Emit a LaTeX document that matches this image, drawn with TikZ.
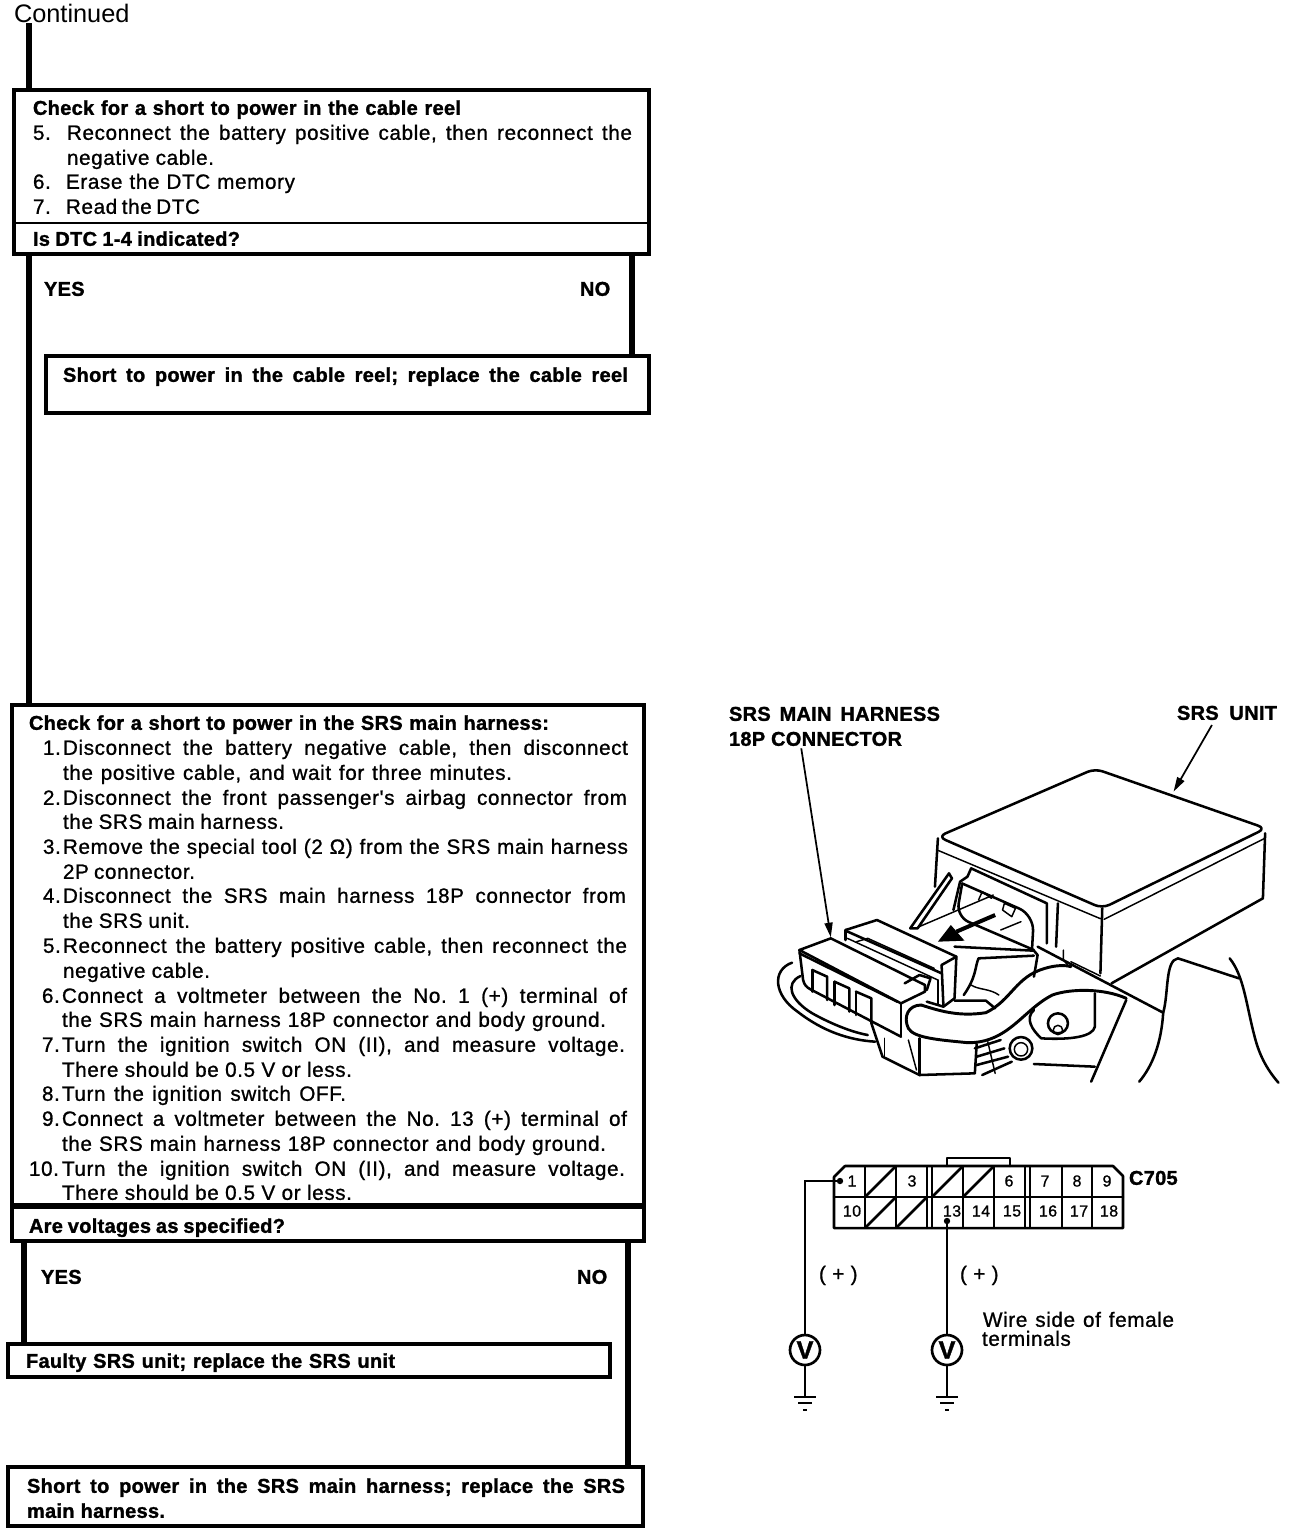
\documentclass[tikz,border=0pt]{standalone}
\usepackage{fontspec}
\usetikzlibrary{arrows.meta}
\setmainfont{Liberation Sans}
\newfontfamily\bodyf[FakeBold=1,LetterSpace=3]{Liberation Sans}
\newfontfamily\boldf[FakeBold=1.4,LetterSpace=1.5]{Liberation Sans Bold}
\newlength\px \setlength\px{0.75pt}
\newcounter{tln}
\frenchspacing
\tikzset{
  flowbox/.style={draw,line width=3.3pt,inner sep=0pt,outer sep=0pt,anchor=north west},
  flow/.style={line width=4pt},
  txt/.style={inner sep=0pt,outer sep=0pt,anchor=base west,yshift=-0.6pt,font=\fontsize{15.5}{18}\bodyf},
  btxt/.style={txt,font=\fontsize{15}{18}\boldf},
  art/.style={line width=1.9pt,line join=round,line cap=round},
  thinart/.style={line width=1.1pt,line join=round,line cap=round},
  pinl/.style={inner sep=0pt,font=\fontsize{12}{14}\bodyf},
  lead/.style={line width=1.3pt,-{Triangle[length=11pt,width=6pt]}},
  vm/.style={circle,draw,line width=2pt,minimum size=22.5pt,inner sep=0pt,font=\fontsize{19}{20}\boldf},
  wire/.style={line width=1.4pt}
}
% box by corners (px)
\newcommand\pbox[5]{\node[flowbox,minimum width=\dimexpr\numexpr #4-#2\relax\px\relax,minimum height=\dimexpr\numexpr #5-#3\relax\px\relax] (#1) at (#2,#3) {};}
% justified line: x1 baseline x2 text
\newcommand\tl[4]{\stepcounter{tln}\node[txt] (t\arabic{tln}) at (#1,#2) {\makebox[\dimexpr\numexpr #3-#1\relax\px\relax][s]{#4}};}
\newcommand\bl[4]{\stepcounter{tln}\node[btxt] (t\arabic{tln}) at (#1,#2) {\makebox[\dimexpr\numexpr #3-#1\relax\px\relax][s]{#4}};}
\newcommand\nl[3]{\stepcounter{tln}\node[txt] (t\arabic{tln}) at (#1,#2) {#3};}
\newcommand\nb[3]{\stepcounter{tln}\node[btxt] (t\arabic{tln}) at (#1,#2) {#3};}
\begin{document}
\begin{tikzpicture}[x=0.75pt,y=-0.75pt]
\useasboundingbox (0,0) rectangle (1296,1532);
% ---------- flow boxes
\pbox{boxA}{14}{90}{649}{254}
\pbox{boxB}{46}{356}{649}{413}
\pbox{boxC}{12}{705}{644}{1205}
\pbox{boxD}{12}{1207}{644}{1241}
\pbox{boxE}{8}{1344}{610}{1377}
\pbox{boxF}{8}{1467}{643}{1526}
\coordinate (xa) at (29,0);
\coordinate (xb) at (632,0);
\coordinate (xc) at (24,0);
\coordinate (xd) at (628,0);
\node[txt,anchor=base west,font=\fontsize{19}{20}\selectfont] (cont) at (14,22) {Continued};
\draw[flow] (xa |- cont.south) -- (xa |- boxA.north);
\draw[flow] (xa |- boxA.south) -- (xa |- boxC.north);
\draw[flow] (xb |- boxA.south) -- (xb |- boxB.north);
\draw[flow] (xc |- boxD.south) -- (xc |- boxE.north);
\draw[flow] (xd |- boxD.south) -- (xd |- boxF.north);
\coordinate (divy) at (0,223);
\draw[line width=0.8pt] (boxA.west |- divy) -- (boxA.east |- divy);
% ---------- box A text
\bl{33}{114}{461}{Check for a short to power in the cable reel}
\nl{33}{139}{5.}
\tl{67}{139}{632}{Reconnect the battery positive cable, then reconnect the}
\tl{67}{164}{214}{negative cable.}
\nl{33}{188}{6.}
\tl{66}{188}{295}{Erase the DTC memory}
\nl{33}{213}{7.}
\tl{66}{213}{200}{Read the DTC}
\bl{33}{245}{240}{Is DTC 1-4 indicated?}
\nb{44}{295}{YES}
\nb{580}{295}{NO}
\bl{63}{381}{628}{Short to power in the cable reel; replace the cable reel}
% ---------- box C text
\bl{29}{729}{549}{Check for a short to power in the SRS main harness:}
\nl{43}{754}{1.}
\tl{63}{754}{628}{Disconnect the battery negative cable, then disconnect}
\tl{63}{779}{512}{the positive cable, and wait for three minutes.}
\nl{43}{804}{2.}
\tl{63}{804}{627}{Disconnect the front passenger's airbag connector from}
\tl{63}{828}{284}{the SRS main harness.}
\nl{43}{853}{3.}
\tl{63}{853}{628}{Remove the special tool (2 Ω) from the SRS main harness}
\tl{63}{878}{195}{2P connector.}
\nl{43}{902}{4.}
\tl{63}{902}{626}{Disconnect the SRS main harness 18P connector from}
\tl{63}{927}{190}{the SRS unit.}
\nl{43}{952}{5.}
\tl{63}{952}{627}{Reconnect the battery positive cable, then reconnect the}
\tl{63}{977}{210}{negative cable.}
\nl{42}{1002}{6.}
\tl{62}{1002}{627}{Connect a voltmeter between the No. 1 (+) terminal of}
\tl{62}{1026}{606}{the SRS main harness 18P connector and body ground.}
\nl{42}{1051}{7.}
\tl{62}{1051}{625}{Turn the ignition switch ON (II), and measure voltage.}
\tl{62}{1076}{352}{There should be 0.5 V or less.}
\nl{42}{1100}{8.}
\tl{62}{1100}{346}{Turn the ignition switch OFF.}
\nl{42}{1125}{9.}
\tl{62}{1125}{627}{Connect a voltmeter between the No. 13 (+) terminal of}
\tl{62}{1150}{606}{the SRS main harness 18P connector and body ground.}
\nl{29}{1175}{10.}
\tl{62}{1175}{625}{Turn the ignition switch ON (II), and measure voltage.}
\tl{62}{1199}{352}{There should be 0.5 V or less.}
\bl{29}{1232}{285}{Are voltages as specified?}
\nb{41}{1283}{YES}
\nb{577}{1283}{NO}
\bl{26}{1367}{395}{Faulty SRS unit; replace the SRS unit}
\bl{27}{1492}{625}{Short to power in the SRS main harness; replace the SRS}
\bl{27}{1517}{165}{main harness.}
% ---------- illustration labels
\bl{729}{720}{940}{SRS MAIN HARNESS}
\bl{729}{745}{902}{18P CONNECTOR}
\bl{1177}{719}{1277}{SRS UNIT}
% ---------- illustration, in crop coordinates
\begin{scope}[shift={(720,690)},x=0.277pt,y=-0.25pt]
\coordinate (hFrom) at (220,175);
\coordinate (hTip) at (300,742);
\coordinate (uFrom) at (1332,105);
\coordinate (uTip) at (1228,305);
% unit lid and body
\draw[art,rounded corners=6pt] (590,440) -- (1015,236) -- (1478,415) -- (1035,655) -- cycle;
\draw[art] (1476,430) -- (1470,625) -- (1060,880);
\draw[thinart] (1040,688) -- (1475,445);
\draw[thinart] (588,480) -- (1030,686) ;
\draw[art] (1035,655) -- (1030,850);
\draw[art] (590,445) -- (582,590);
% socket
\draw[art] (680,535) -- (670,560) -- (650,575) -- (632,660);
\draw[art] (680,535) -- (885,640) -- (885,760);
\draw[art] (915,640) -- (910,770);
\draw[art,rounded corners=12pt] (655,580) -- (850,675) -- (845,775);
\draw[art,rounded corners=10pt] (655,585) -- (640,680) -- (850,780);
\draw[thinart] (765,660) -- (770,640) -- (800,655) -- (790,680) -- cycle;
\draw[thinart] (700,630) -- (710,605) -- (735,625);
\draw[thinart] (760,720) -- (815,695);
\draw[art] (620,550) -- (515,715) -- (535,715) -- (628,565) -- cycle;
\draw[thinart] (535,712) -- (740,615);
\draw[line width=3pt] (745,675) -- (640,725);
\fill (590,755) -- (625,705) -- (662,752) -- cycle;
% cable behind
\draw[art] (195,818) .. controls (140,840) and (145,915) .. (210,965) .. controls (280,1025) and (350,1050) .. (420,1055);
\draw[art] (218,858) .. controls (175,880) and (190,930) .. (250,970) .. controls (290,995) and (350,1025) .. (400,1035);
% rear connector block
\draw[art] (340,720) -- (425,690) -- (640,800) -- (635,925) -- (605,950) -- (560,935);
\draw[art] (340,720) -- (340,750);
\draw[art] (600,825) -- (640,800);
\draw[art] (600,825) -- (605,950);
\draw[art] (340,722) -- (600,850);
\draw[thinart] (345,745) -- (590,870);
\draw[thinart] (370,755) -- (400,745) -- (580,835);
\draw[art] (500,880) -- (540,855) -- (570,865) -- (560,900);
% front connector block
\draw[art] (215,780) -- (300,745) -- (555,885) -- (555,905) -- (490,940) -- cycle;
\draw[art] (215,790) -- (480,935);
\draw[art] (215,780) -- (225,870) .. controls (228,885) and (235,892) .. (245,898) -- (490,1040);
\draw[art] (490,940) -- (490,1040);
\draw[art] (250,840) -- (290,860) -- (290,930);
\draw[art] (250,840) -- (250,905);
\draw[art] (310,875) -- (350,895) -- (350,965);
\draw[art] (310,875) -- (310,945);
\draw[art] (368,905) -- (410,925) -- (410,1000);
\draw[art] (368,905) -- (368,975);
\draw[thinart] (590,870) -- (590,945);
% cable in front
\draw[line width=2.2pt,line cap=round] (545,945) .. controls (510,945) and (495,980) .. (510,1015) .. controls (525,1045) and (600,1050) .. (670,1058) .. controls (780,1060) and (820,960) .. (900,915) .. controls (950,895) and (1040,895) .. (1100,925);
\draw[line width=2.2pt,line cap=round] (545,945) .. controls (600,965) and (650,980) .. (720,968) .. controls (790,930) and (800,860) .. (880,835) .. controls (910,825) and (935,825) .. (950,830);
% interior
\draw[art] (635,770) -- (850,782) -- (860,795) -- (850,860);
\draw[art] (860,770) -- (1200,968);
\draw[art] (700,805) .. controls (690,830) and (695,860) .. (660,915);
\draw[art] (700,805) -- (850,797);
\draw[thinart] (680,885) .. controls (700,900) and (730,895) .. (755,915);
\draw[art] (635,932) -- (720,932) -- (745,955);
\draw[thinart] (930,780) -- (930,810) -- (945,830);
\draw[thinart] (950,815) -- (1030,858);
% right-hand surfaces
\draw[art] (1200,968) .. controls (1215,910) and (1205,810) .. (1240,805) -- (1405,865);
\draw[art] (1380,805) .. controls (1420,860) and (1425,950) .. (1450,1050) .. controls (1465,1110) and (1490,1150) .. (1512,1178);
\draw[art] (1200,968) .. controls (1195,1060) and (1170,1130) .. (1135,1175);
\draw[art] (1100,930) -- (1005,1175);
% bracket and bolts
\draw[art] (1015,910) -- (1015,1010) .. controls (1010,1040) and (950,1050) .. (870,1045) .. controls (845,1020) and (825,985) .. (850,960);
\draw[art] (915,1000) circle[radius=7.5pt];
\draw[thinart] (915,1020) circle[radius=3.5pt];
\draw[art] (815,1075) circle[radius=8.5pt];
\draw[thinart] (815,1078) circle[radius=5pt];
\draw[art] (850,1122) -- (1015,1130);
% lower housing
\draw[art] (410,1000) -- (440,1100) -- (540,1155) -- (690,1150) -- (695,1062);
\draw[art] (540,1045) -- (540,1155);
\draw[thinart] (445,1045) -- (445,1100);
\draw[thinart] (510,1050) -- (532,1140);
\draw[art] (690,1075) -- (760,1050);
\draw[art] (695,1100) -- (770,1075);
\draw[art] (695,1125) -- (780,1100);
\draw[art] (710,1155) -- (790,1115);
\draw[thinart] (725,1055) -- (745,1150);
\end{scope}
\draw[lead] (hFrom) -- (hTip);
\draw[lead] (uFrom) -- (uTip);
% ---------- C705 connector
\draw[art] (834,1177) -- (845,1166) -- (1113,1166) -- (1123,1176) -- (1123,1228) -- (834,1228) -- cycle;
\draw[art] (834,1197) -- (1123,1197);
\draw[art] (947,1166) -- (947,1158) -- (1010,1158) -- (1010,1166);
\foreach \x in {865,896,927,932,963,994,1025,1030,1062,1092} \draw[thinart] (\x,1166) -- (\x,1228);
\foreach \a/\b/\c in {865/896/1197,932/963/1197,963/994/1197,865/896/1228,896/927/1228}
  \draw[art] (\a,\c) -- (\b,\c-31);
\foreach \n/\x/\y in {1/852/1181,3/912/1181,6/1009/1181,7/1045/1181,8/1077/1181,9/1107/1181,
  10/852/1211,13/952/1211,14/981/1211,15/1012/1211,16/1048/1211,17/1079/1211,18/1109/1211}
  \node[pinl] (pin\n) at (\x,\y) {\n};
\nb{1129}{1184}{C705}
\coordinate (dotA) at (840,1181);
\coordinate (dotB) at (947,1221);
\fill (dotA) circle[radius=2.4pt];
\fill (dotB) circle[radius=2.4pt];
\node[vm] (vA) at (805,1350) {V};
\node[vm] (vB) at (947,1350) {V};
\draw[wire] (dotA) -- (vA |- dotA) -- (vA);
\draw[wire,line width=2pt] (dotB) -- (vB);
\coordinate (gA) at (805,1397);
\coordinate (gB) at (947,1397);
\draw[wire] (vA) -- (gA);
\draw[wire] (vB) -- (gB);
\foreach \g in {gA,gB}{
  \draw[wire] ([xshift=-8pt]\g) -- ([xshift=8pt]\g);
  \draw[wire] ([xshift=-5pt,yshift=-4.5pt]\g) -- ([xshift=5pt,yshift=-4.5pt]\g);
  \draw[wire] ([xshift=-1.5pt,yshift=-10pt]\g) -- ([xshift=1.5pt,yshift=-10pt]\g);
}
\node[txt] (plusA) at (819,1280) {( + )};
\node[txt] (plusB) at (960,1280) {( + )};
\tl{983}{1326}{1174}{Wire side of female}
\nl{982}{1345}{terminals}
\end{tikzpicture}
\end{document}
